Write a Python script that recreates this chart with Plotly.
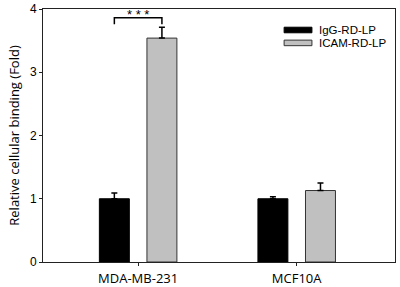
import plotly.graph_objects as go

categories = ["MDA-MB-231", "MCF10A"]
series_names = ["IgG-RD-LP", "ICAM-RD-LP"]
igg_values = [1.00, 1.00]
igg_errors = [0.09, 0.03]
icam_values = [3.54, 1.13]
icam_errors = [0.17, 0.12]
y_ticks = [0, 1, 2, 3, 4]
sig_label = "* * *"

fig = go.Figure()
fig.add_trace(go.Bar(
    x=categories, y=igg_values, name=series_names[0],
    marker=dict(color="black", line=dict(color="black", width=1)),
    error_y=dict(type="data", array=igg_errors, arrayminus=[0, 0], symmetric=False,
                 color="black", thickness=1.5, width=3),
    showlegend=False,
))
fig.add_trace(go.Bar(
    x=categories, y=icam_values, name=series_names[1],
    marker=dict(color="#c0c0c0", line=dict(color="#333333", width=1)),
    error_y=dict(type="data", array=icam_errors, arrayminus=[0, 0], symmetric=False,
                 color="black", thickness=1.5, width=3),
    showlegend=False,
))

# significance bracket between the two MDA-MB-231 bars
off = 0.15
by, bt = 3.86, 3.76
fig.add_shape(type="path", xref="x", yref="y",
              path=f"M {-off} {bt} L {-off} {by} L {off} {by} L {off} {bt}",
              line=dict(color="black", width=1.5))
fig.add_annotation(x=0, y=by, xref="x", yref="y", text=sig_label, showarrow=False,
                   yanchor="bottom", yshift=-6,
                   font=dict(family="Liberation Sans, Arial", size=13, color="black"))

# legend drawn as shapes + text
leg_items = [(series_names[0], "black", "black", 0.917),
             (series_names[1], "#c0c0c0", "#333333", 0.866)]
for name, fill, edge, yc in leg_items:
    fig.add_shape(type="rect", xref="paper", yref="paper",
                  x0=0.685, x1=0.764, y0=yc - 0.011, y1=yc + 0.011,
                  fillcolor=fill, line=dict(color=edge, width=1))
    fig.add_annotation(x=0.778, y=yc, xref="paper", yref="paper", text=name,
                       showarrow=False, xanchor="left", yanchor="middle",
                       font=dict(family="Liberation Sans, Arial", size=11.5, color="black"))

fig.update_layout(
    width=400, height=287,
    margin=dict(l=43, r=5, t=9, b=25),
    plot_bgcolor="white", paper_bgcolor="white",
    barmode="group", bargap=0.4, bargroupgap=0.37,
    showlegend=False,
)
fig.update_xaxes(
    type="category", range=[-0.6, 1.62], automargin=False,
    showline=True, linecolor="#222222", linewidth=1, mirror=True,
    ticks="outside", ticklen=3, tickcolor="#222222",
    showgrid=False, zeroline=False, ticklabelstandoff=1,
    tickfont=dict(family="Open Sans", size=13, color="black"),
)
fig.update_yaxes(
    range=[0, 4], tickvals=y_ticks, automargin=False,
    showline=True, linecolor="#222222", linewidth=1, mirror=True,
    ticks="outside", ticklen=3, tickcolor="#222222",
    showgrid=False, zeroline=False,
    tickfont=dict(family="Liberation Sans, Arial", size=12, color="black"),
    title=dict(text="Relative cellular binding (Fold)", standoff=7,
               font=dict(family="Open Sans", size=13, color="black")),
)

fig.write_html("out.html", config={"displayModeBar": False},
               post_script="document.body.style.margin='0';document.body.style.overflow='hidden';")
